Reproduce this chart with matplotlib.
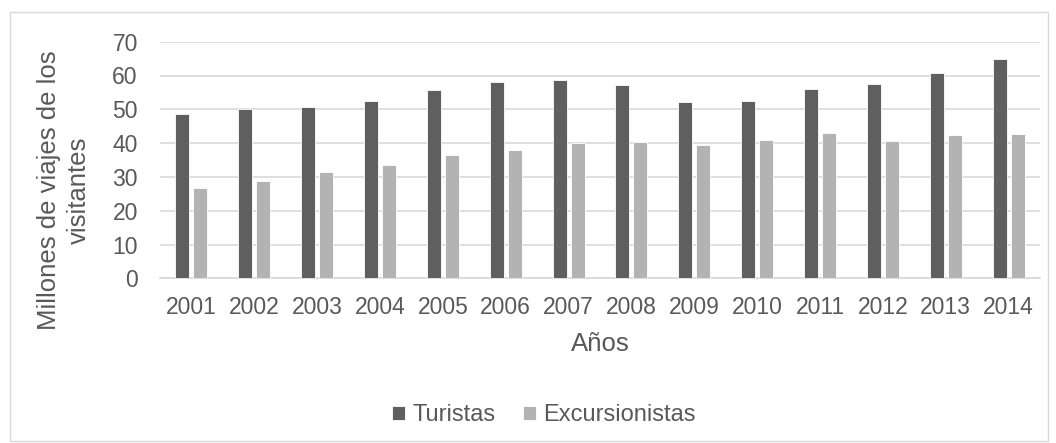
import numpy as np
import matplotlib.pyplot as plt
from matplotlib.patches import Rectangle

plt.rcParams['font.family'] = ['Liberation Sans', 'DejaVu Sans']

# Data
years = ['2001', '2002', '2003', '2004', '2005', '2006', '2007',
         '2008', '2009', '2010', '2011', '2012', '2013', '2014']
turistas = [48.5, 50.2, 50.8, 52.5, 55.8, 58.0, 58.7,
            57.1, 52.2, 52.6, 56.1, 57.4, 60.7, 65.0]
excursionistas = [26.8, 28.8, 31.4, 33.5, 36.6, 38.0, 40.1,
                  40.3, 39.5, 40.9, 42.9, 40.6, 42.4, 42.6]

text_col = '#595959'
dark = '#5f5f5f'
light = '#b3b3b3'

fig = plt.figure(figsize=(10.56, 4.43), dpi=100)
ax = fig.add_axes([160 / 1056, 1 - 278.3 / 443, 880 / 1056, 236.6 / 443])

# outer chart border
fig.patches.append(Rectangle((10 / 1056, 2 / 443), 1038 / 1056, 429 / 443,
                             transform=fig.transFigure, fill=False,
                             edgecolor='#d9d9d9', linewidth=1))

x = np.arange(len(years))
w = 0.223
off = 0.143
ax.bar(x - off, turistas, w, color=dark, edgecolor='white', linewidth=0.6,
       label='Turistas', zorder=3)
ax.bar(x + off, excursionistas, w, color=light, edgecolor='white', linewidth=0.6,
       label='Excursionistas', zorder=3)

ax.set_xlim(-0.5, len(years) - 0.5)
ax.set_ylim(0, 70)
ax.set_yticks(range(0, 71, 10))
ax.set_xticks(x)
ax.set_xticklabels(years)
ax.yaxis.grid(True, color='#d9d9d9', linewidth=1.2, zorder=0)
ax.set_axisbelow(True)
for s in ['top', 'right', 'left']:
    ax.spines[s].set_visible(False)
ax.spines['bottom'].set_color('#d9d9d9')
ax.spines['bottom'].set_linewidth(1.2)
ax.tick_params(axis='both', length=0, labelsize=16.5, colors=text_col)
ax.tick_params(axis='y', pad=16)
ax.tick_params(axis='x', pad=13)

ax.set_xlabel('Años', fontsize=18.5, color=text_col, labelpad=9)
fig.text(64 / 1056, 1 - 190 / 443, 'Millones de viajes de los\nvisitantes',
         rotation=90, ha='center', va='center', fontsize=18.5, color=text_col,
         linespacing=1.3, multialignment='center')

fig.legend(loc='center', bbox_to_anchor=(544 / 1056, 1 - 415 / 443), ncol=2,
           frameon=False, fontsize=17, labelcolor=text_col,
           handlelength=0.55, handleheight=0.55, handletextpad=0.3, columnspacing=1.2)

fig.savefig('out.png', dpi=100)
